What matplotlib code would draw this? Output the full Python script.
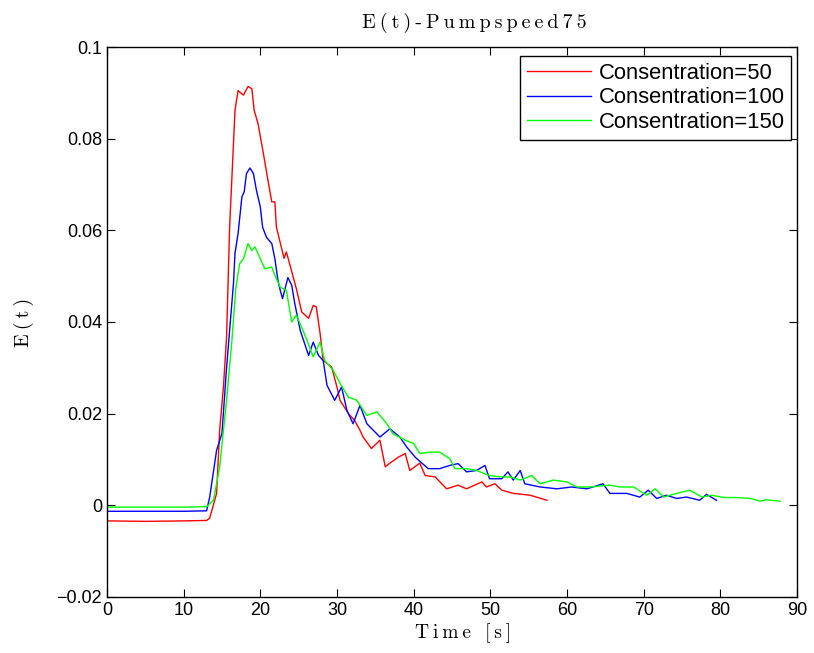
import matplotlib
matplotlib.use('agg')
import matplotlib.pyplot as plt
from matplotlib.ticker import FuncFormatter

# Consentration = 50 (red)
t_red = [0, 5, 10, 13.0, 13.4, 14.3, 14.7, 15.2, 15.6, 16.0, 16.7, 17.1, 17.8, 18.4,
         18.9, 19.2, 19.7, 20.4, 21.0, 21.5, 21.9, 22.1, 23.1, 23.4, 24.7, 25.4,
         26.3, 26.9, 27.3, 27.8, 28.2, 29.3, 30.0, 30.4, 31.5, 32.3, 33.0, 33.4,
         34.5, 35.6, 36.3, 36.9, 38.0, 38.9, 39.5, 40.8, 41.5, 42.8, 44.3, 45.8,
         46.9, 48.9, 49.5, 50.6, 51.5, 53.0, 55.2, 57.4]
e_red = [-0.0034, -0.0035, -0.0034, -0.0033, -0.0028, 0.0026, 0.0164, 0.026, 0.0367,
         0.0607, 0.0862, 0.0905, 0.0895, 0.0914, 0.0909, 0.0862, 0.0833, 0.0768,
         0.0709, 0.0662, 0.0662, 0.0607, 0.0539, 0.0553, 0.0473, 0.0422, 0.0408,
         0.0436, 0.0433, 0.0375, 0.0316, 0.0302, 0.0258, 0.0229, 0.0200, 0.0185,
         0.0164, 0.0149, 0.0124, 0.0142, 0.0084, 0.0092, 0.0105, 0.0113, 0.0076,
         0.0092, 0.0065, 0.0062, 0.0036, 0.0044, 0.0036, 0.0051, 0.0040, 0.0047,
         0.0033, 0.0026, 0.0022, 0.0011]

# Consentration = 100 (blue)
t_blue = [0, 5, 10, 13.0, 13.4, 14.3, 15.0, 15.6, 16.5, 16.7, 17.1, 17.6, 17.9, 18.2,
          18.65, 19.1, 19.5, 20.0, 20.3, 20.8, 21.5, 21.9, 22.3, 22.6, 22.9, 23.6,
          24.1, 24.5, 25.2, 26.3, 26.9, 27.6, 28.2, 28.7, 29.7, 30.6, 31.3, 32.1,
          33.0, 33.9, 35.6, 36.9, 38.2, 39.1, 40.2, 41.9, 43.4, 44.7, 45.8, 46.9,
          48.2, 49.3, 49.9, 51.5, 52.3, 53.0, 53.9, 54.5, 56.5, 58.7, 60.6, 62.6,
          64.7, 65.6, 67.8, 69.5, 70.6, 71.7, 73.0, 74.3, 75.6, 77.3, 78.2, 79.5]
e_blue = [-0.0013, -0.0013, -0.0013, -0.0012, 0.0018, 0.012, 0.0157, 0.030, 0.0484,
          0.055, 0.0593, 0.0673, 0.0684, 0.0724, 0.0736, 0.0724, 0.0687, 0.0651,
          0.0607, 0.0585, 0.0571, 0.0538, 0.0491, 0.0469, 0.0451, 0.0497, 0.048,
          0.044, 0.0382, 0.0327, 0.0356, 0.0327, 0.0316, 0.0262, 0.0229, 0.0258,
          0.0207, 0.0178, 0.0218, 0.0178, 0.0149, 0.0167, 0.0149, 0.0127, 0.0105,
          0.008, 0.008, 0.0087, 0.0091, 0.0073, 0.0076, 0.0087, 0.0058, 0.0058,
          0.0073, 0.0055, 0.0076, 0.0047, 0.004, 0.0036, 0.004, 0.0036, 0.0047,
          0.0026, 0.0026, 0.0018, 0.0033, 0.0015, 0.0022, 0.0015, 0.0018, 0.0011,
          0.0024, 0.0011]

# Consentration = 150 (green)
t_green = [0, 5, 10, 13.0, 13.9, 14.7, 15.6, 16.3, 16.8, 17.3, 17.8, 18.4, 18.9, 19.3,
           20.0, 20.6, 21.5, 21.9, 22.6, 23.4, 24.1, 24.7, 25.2, 26.0, 26.9, 27.8,
           28.4, 29.5, 30.4, 31.5, 32.6, 33.9, 35.2, 36.5, 37.3, 38.9, 40.0, 40.8,
           42.1, 43.4, 44.7, 45.4, 46.9, 48.2, 49.9, 51.3, 52.6, 53.9, 55.4, 56.5,
           58.2, 60.0, 61.3, 63.0, 65.6, 66.9, 68.7, 70.4, 71.5, 72.6, 74.3, 76.0,
           77.6, 78.9, 80.4, 82.1, 83.9, 85.2, 86.0, 87.8]
e_green = [-0.0004, -0.0004, -0.0004, -0.0003, 0.0011, 0.0084, 0.0229, 0.036, 0.0473,
           0.0527, 0.0538, 0.0571, 0.0556, 0.0564, 0.0538, 0.0516, 0.052, 0.0502,
           0.0476, 0.0469, 0.04, 0.0415, 0.0396, 0.0364, 0.0324, 0.0356, 0.0316,
           0.0295, 0.0266, 0.0236, 0.0229, 0.0196, 0.0204, 0.0178, 0.0156, 0.0142,
           0.0135, 0.0113, 0.0116, 0.0116, 0.0102, 0.008, 0.008, 0.0076, 0.0065,
           0.0062, 0.0062, 0.0055, 0.0065, 0.0047, 0.0055, 0.0051, 0.004, 0.004,
           0.0044, 0.004, 0.004, 0.0022, 0.0036, 0.0018, 0.0026, 0.0033, 0.0018,
           0.0022, 0.0017, 0.0017, 0.0015, 0.0009, 0.0012, 0.0009]

labels = ['Consentration=50', 'Consentration=100', 'Consentration=150']
title = 'E(t)-Pumpspeed75'
xlabel = 'Time [s]'
ylabel = 'E(t)'

plt.rcParams['font.family'] = ['Liberation Sans', 'DejaVu Sans']


def spaced(s):
    # matlab's latex interpreter spreads the letters out
    return '\u2009'.join(s)


serif = ['cmr10', 'DejaVu Serif']

fig = plt.figure(figsize=(8.14, 6.53), dpi=100)
ax = fig.add_axes([0.1314, 0.0858, 0.8477, 0.8422])

ax.plot(t_red, e_red, color='#ff0000', lw=1.0, label=labels[0])
ax.plot(t_blue, e_blue, color='#0000ff', lw=1.0, label=labels[1])
ax.plot(t_green, e_green, color='#00ff00', lw=1.0, label=labels[2])

ax.set_xlim(0, 90)
ax.set_ylim(-0.02, 0.1)
ax.set_xticks(range(0, 91, 10))
ax.set_yticks([-0.02, 0, 0.02, 0.04, 0.06, 0.08, 0.1])
ax.yaxis.set_major_formatter(FuncFormatter(lambda v, p: ('%g' % round(v, 4)).replace('-', '\u2212')))
ax.tick_params(direction='in', top=True, right=True, labelsize=13, length=6, width=0.8)
for s in ax.spines.values():
    s.set_linewidth(1.0)

ax.set_title(spaced(title), family=serif, fontsize=14.5, pad=14, x=0.533)
ax.set_xlabel(spaced(xlabel), family=serif, fontsize=14, labelpad=4)
ax.xaxis.set_label_coords(0.516, -0.048)
ax.set_ylabel(spaced(ylabel), family=serif, fontsize=14.5, labelpad=16)

leg = ax.legend(loc='upper right', bbox_to_anchor=(791 / 814, 1 - 56 / 653),
                bbox_transform=fig.transFigure, borderaxespad=0,
                prop={'size': 15.8}, frameon=True, fancybox=False,
                edgecolor='black', framealpha=1, handlelength=2.9,
                handletextpad=0.36, labelspacing=0.17, borderpad=0.3)
leg.get_frame().set_linewidth(1.0)

fig.savefig('out.png', dpi=100)
